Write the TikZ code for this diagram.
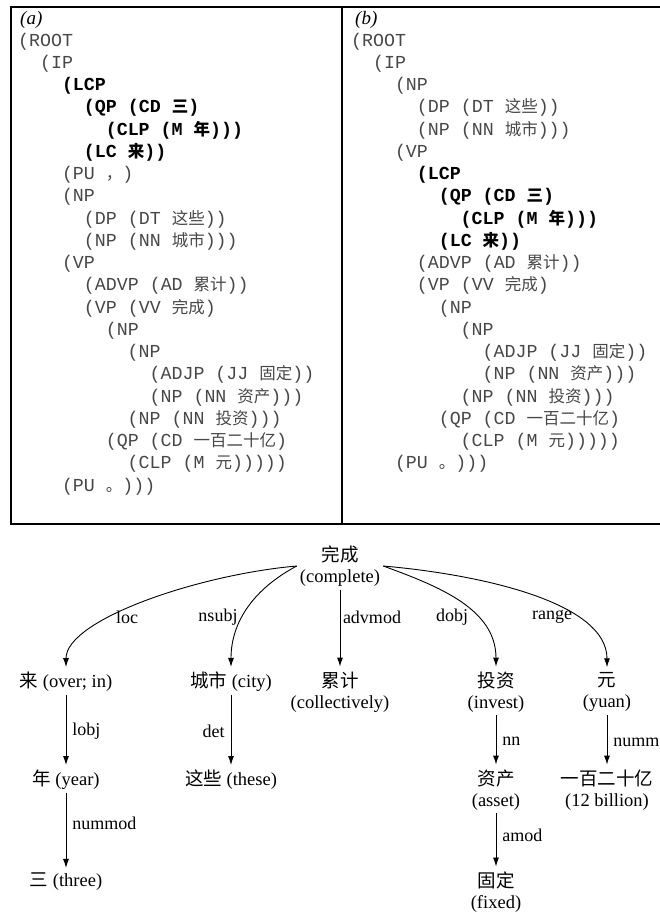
\documentclass[tikz,border=0pt]{standalone}
\usepackage{fontspec}
\setmainfont{Liberation Serif}
\setmonofont{Liberation Mono}
\newfontfamily\cjk{Noto Sans CJK SC}
\newcommand{\zh}[1]{{\cjk #1}}
\newcommand{\tzh}[1]{{\fontsize{16.5}{22}\selectfont\cjk #1}}
\usetikzlibrary{arrows.meta}

\begin{document}
\begin{tikzpicture}[x=1pt, y=-1pt, >={Latex[length=9pt,width=6pt]}]
    \tikzstyle{tline}=[anchor=base west, inner sep=0pt, text=black!72, font=\fontsize{18.3}{22}\selectfont\ttfamily]
    \tikzstyle{tbold}=[tline, text=black, font=\fontsize{18.3}{22}\selectfont\ttfamily\bfseries]
    \tikzstyle{tag}=[anchor=base west, inner sep=0pt, font=\fontsize{19}{22}\selectfont\itshape]
    \tikzstyle{word}=[align=center, inner sep=3pt, font=\fontsize{18.5}{21}\selectfont]
    \tikzstyle{rel}=[inner ysep=3pt, inner xsep=6pt, font=\fontsize{18}{20}\selectfont]
    \tikzstyle{dep}=[->, line width=0.9pt, shorten >=2pt]

    \useasboundingbox (0,0) rectangle (660,914);

    % Draw the table frame
    \draw[line width=1.2pt] (660,7) -- (11,7) -- (11,524) -- (660,524);
    \draw[line width=1.2pt] (342,7) -- (342,524);

    % Annotate the two parses
    \node[tag] (tag-a) at (20,24) {(a)};
    \node[tag] (tag-b) at (355,24) {(b)};

    % Draw parse (a)
    \foreach \row/\lvl/\txt in {0/0/{(ROOT}, 1/1/{(IP}, 6/2/{(PU \tzh{，})}, 7/2/{(NP},
            8/3/{(DP (DT \tzh{这些}))}, 9/3/{(NP (NN \tzh{城市})))}, 10/2/{(VP},
            11/3/{(ADVP (AD \tzh{累计}))}, 12/3/{(VP (VV \tzh{完成})}, 13/4/{(NP}, 14/5/{(NP},
            15/6/{(ADJP (JJ \tzh{固定}))}, 16/6/{(NP (NN \tzh{资产})))}, 17/5/{(NP (NN \tzh{投资})))},
            18/4/{(QP (CD \tzh{一百二十亿})}, 19/5/{(CLP (M \tzh{元})))))}, 20/2/{(PU \tzh{。})))}}
        \node[tline] (a-\row) at (18+21.9*\lvl, 46+22.25*\row) {\txt};
    \foreach \row/\lvl/\txt in {2/2/{(LCP}, 3/3/{(QP (CD \tzh{三})},
            4/4/{(CLP (M \tzh{年})))}, 5/3/{(LC \tzh{来}))}}
        \node[tbold] (a-\row) at (18+21.9*\lvl, 46+22.25*\row) {\txt};

    % Draw parse (b)
    \foreach \row/\lvl/\txt in {0/0/{(ROOT}, 1/1/{(IP}, 2/2/{(NP}, 3/3/{(DP (DT \tzh{这些}))},
            4/3/{(NP (NN \tzh{城市})))}, 5/2/{(VP}, 10/3/{(ADVP (AD \tzh{累计}))},
            11/3/{(VP (VV \tzh{完成})}, 12/4/{(NP}, 13/5/{(NP}, 14/6/{(ADJP (JJ \tzh{固定}))},
            15/6/{(NP (NN \tzh{资产})))}, 16/5/{(NP (NN \tzh{投资})))},
            17/4/{(QP (CD \tzh{一百二十亿})}, 18/5/{(CLP (M \tzh{元})))))}, 19/2/{(PU \tzh{。})))}}
        \node[tline] (b-\row) at (351+21.9*\lvl, 46+22.25*\row) {\txt};
    \foreach \row/\lvl/\txt in {6/3/{(LCP}, 7/4/{(QP (CD \tzh{三})},
            8/5/{(CLP (M \tzh{年})))}, 9/4/{(LC \tzh{来}))}}
        \node[tbold] (b-\row) at (351+21.9*\lvl, 46+22.25*\row) {\txt};

    % Draw the dependency words
    \node[word] (wancheng) at (340,566) {\zh{完成}\\(complete)};
    \node[word] (lai) at (66,682) {\zh{来} (over; in)};
    \node[word] (chengshi) at (231,682) {\zh{城市} (city)};
    \node[word] (leiji) at (340,692) {\zh{累计}\\(collectively)};
    \node[word] (touzi) at (496,692) {\zh{投资}\\(invest)};
    \node[word] (yuan) at (607,692) {\zh{元}\\(yuan)};
    \node[word] (nian) at (66,780) {\zh{年} (year)};
    \node[word] (zhexie) at (231,780) {\zh{这些} (these)};
    \node[word] (zichan) at (496,790) {\zh{资产}\\(asset)};
    \node[word] (yibai) at (607,790) {\zh{一百二十亿}\\(12 billion)};
    \node[word] (san) at (66,882) {\zh{三} (three)};
    \node[word] (guding) at (496,892) {\zh{固定}\\(fixed)};

    % Connect the head with its dependents
    \draw[dep] (wancheng.west) to[out=185,in=90,in looseness=0.5] (lai.north);
    \draw[dep] (wancheng.west) to[out=208,in=90] (chengshi.north);
    \draw[dep] (wancheng.south) -- (leiji.north);
    \draw[dep] (wancheng.east) to[out=-20,in=90] (touzi.north);
    \draw[dep] (wancheng.east) to[out=-5,in=90,in looseness=0.7] (yuan.north);

    \draw[dep] (lai.south) -- node[rel, right] (r-lobj) {lobj} (nian.north);
    \draw[dep] (nian.south) -- node[rel, right, pos=.4] (r-nummod) {nummod} (san.north);
    \draw[dep] (chengshi.south) -- node[rel, left] (r-det) {det} (zhexie.north);
    \draw[dep] (touzi.south) -- node[rel, right] (r-nn) {nn} (zichan.north);
    \draw[dep] (zichan.south) -- node[rel, right, pos=.4] (r-amod) {amod} (guding.north);
    \draw[dep] (yuan.south) -- node[rel, right] (r-numn) {nummod} (yibai.north);

    % Annotate the relations of the head
    \node[rel] (r-loc) at (127,617) {loc};
    \node[rel] (r-nsubj) at (218,617) {nsubj};
    \node[rel] (r-advmod) at (372,617) {advmod};
    \node[rel] (r-dobj) at (452,617) {dobj};
    \node[rel] (r-range) at (552,617) {range};
\end{tikzpicture}
\end{document}
